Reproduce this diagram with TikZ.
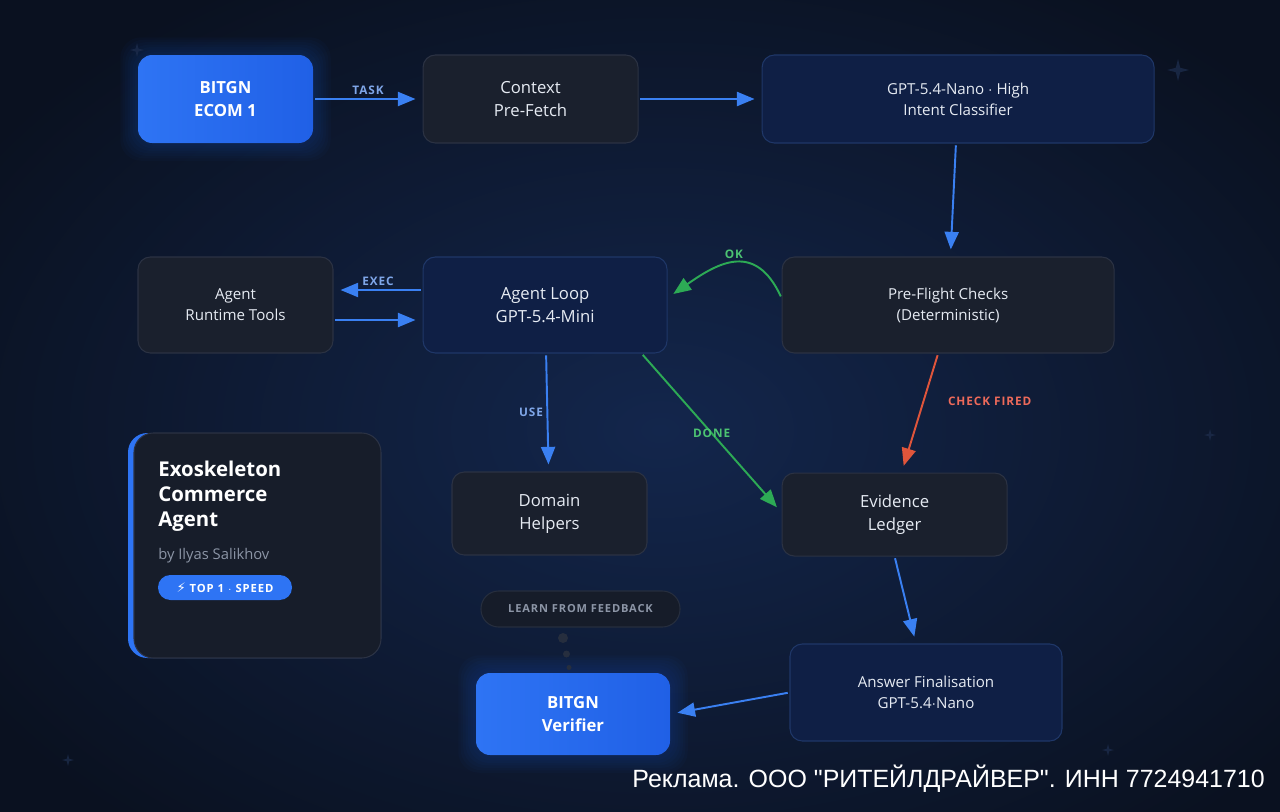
\documentclass[tikz,border=0pt]{standalone}
\usepackage{fontspec}
\setmainfont{Open Sans}
\newfontfamily\tagfont{Open Sans}[LetterSpace=8.0]
\newfontfamily\adfont{Liberation Sans}
\newfontfamily\symfont{DejaVu Sans}
\usetikzlibrary{positioning, arrows.meta, calc, backgrounds}

\definecolor{bgdark}{HTML}{0A1120}
\definecolor{bgglow}{HTML}{13264C}
\definecolor{greyfill}{HTML}{1A202D}
\definecolor{greyline}{HTML}{2B3243}
\definecolor{navyfill}{HTML}{0F1F45}
\definecolor{navyline}{HTML}{1F3768}
\definecolor{bitblue}{HTML}{2060E6}
\definecolor{bitbluelight}{HTML}{2E74F4}
\definecolor{flowblue}{HTML}{3A80F2}
\definecolor{tagblue}{HTML}{7FA6E8}
\definecolor{okgreen}{HTML}{2DAA55}
\definecolor{taggreen}{HTML}{4CC372}
\definecolor{firered}{HTML}{E0553B}
\definecolor{tagred}{HTML}{EE6A5A}
\definecolor{boxtext}{HTML}{E6EBF3}
\definecolor{mutedtext}{HTML}{8C95A6}
\definecolor{pillfill}{HTML}{161C29}
\definecolor{pillline}{HTML}{262E3E}
\definecolor{cardfill}{HTML}{171D2A}
\definecolor{sparkcol}{HTML}{1C2B4A}

\begin{document}
\begin{tikzpicture}[
    node distance=2cm,
    box/.style={rectangle, rounded corners=7pt, draw=greyline, fill=greyfill, line width=0.6pt, text=boxtext, align=center, inner sep=0pt, font=\fontsize{9.5}{13}\selectfont},
    smallbox/.style={box, font=\fontsize{8.6}{12}\selectfont},
    navy/.style={draw=navyline, fill=navyfill},
    bitgn/.style={box, draw=none, rounded corners=8pt, left color=bitbluelight, right color=bitblue, text=white, font=\fontsize{9.5}{13}\selectfont\bfseries},
    flow/.style={-{Triangle[length=10pt,width=8pt]}, draw=flowblue, line width=1.1pt, shorten >=4pt, shorten <=1pt},
    okflow/.style={flow, draw=okgreen, -{Triangle[length=10pt,width=8pt]}, fill=none},
    fireflow/.style={flow, draw=firered},
    tag/.style={font=\tagfont\bfseries\fontsize{6.7}{8}\selectfont, inner sep=2pt},
    sparkle/.style={fill=sparkcol, opacity=0.8}
]
    \useasboundingbox (0,0) rectangle (25.6,-16.22);

    % Background
    \begin{scope}[on background layer]
        \fill[bgdark] (-1,1) rectangle (26.6,-17.2);
        \shade[inner color=bgglow, outer color=bgdark] (13.2,-8.6) ellipse (16cm and 10.5cm);
    \end{scope}
    \foreach \sx/\sy/\sr in {2.74/-1.0/0.14, 23.56/-1.4/0.22, 24.2/-8.7/0.12, 1.36/-15.2/0.12, 22.16/-15.0/0.12}
        \fill[sparkle] (\sx,\sy) +(0,\sr) -- +(0.2*\sr,0.2*\sr) -- +(\sr,0) -- +(0.2*\sr,-0.2*\sr)
            -- +(0,-\sr) -- +(-0.2*\sr,-0.2*\sr) -- +(-\sr,0) -- +(-0.2*\sr,0.2*\sr) -- cycle;

    % Top row
    \node[bitgn, minimum width=3.5cm, minimum height=1.76cm] (bitgn) at (4.51,-1.98) {BITGN\\ECOM 1};
    \node[box, minimum width=4.3cm, minimum height=1.76cm, right=2.18cm of bitgn] (context) {Context\\Pre-Fetch};
    \node[smallbox, navy, minimum width=7.84cm, minimum height=1.76cm, right=2.46cm of context] (intent) {GPT-5.4-Nano $\cdot$ High\\Intent Classifier};

    % Middle row
    \node[smallbox, minimum width=3.9cm, minimum height=1.92cm] (tools) at (4.71,-6.10) {Agent\\Runtime Tools};
    \node[box, navy, minimum width=4.88cm, minimum height=1.92cm, right=1.78cm of tools] (loop) {Agent Loop\\GPT-5.4-Mini};
    \node[smallbox, minimum width=6.64cm, minimum height=1.92cm, right=2.28cm of loop] (preflight) {Pre-Flight Checks\\(Deterministic)};

    % Lower row
    \node[box, minimum width=3.9cm, minimum height=1.66cm] (domain) at (10.99,-10.27) {Domain\\Helpers};
    \node[box, minimum width=4.5cm, minimum height=1.66cm, below=2.38cm of preflight.south west, anchor=north west] (ledger) {Evidence\\Ledger};

    % Bottom
    \node[smallbox, navy, minimum width=5.44cm, minimum height=1.94cm] (answer) at (18.52,-13.85) {Answer Finalisation\\GPT-5.4$\cdot$Nano};
    \node[bitgn, minimum width=3.88cm, minimum height=1.64cm] (verifier) at (11.46,-14.28) {BITGN\\Verifier};
    \node[rectangle, rounded corners=10pt, draw=pillline, fill=pillfill, line width=0.6pt, minimum width=3.98cm, minimum height=0.72cm, inner sep=0pt, text=mutedtext, font=\tagfont\bfseries\fontsize{6.3}{8}\selectfont] (learn) at (11.61,-12.18) {LEARN FROM FEEDBACK};
    \fill[pillline] (11.26,-12.76) circle (0.1);
    \fill[pillline] (11.33,-13.08) circle (0.07);
    \fill[pillline] (11.38,-13.35) circle (0.05);

    % Card
    \fill[bitbluelight, rounded corners=11pt] (2.56,-8.66) rectangle (7.62,-13.16);
    \filldraw[fill=cardfill, draw=greyline, line width=0.6pt, rounded corners=11pt] (2.68,-8.66) rectangle (7.62,-13.16);
    \node[anchor=north west, align=left, inner sep=0pt, text=white, font=\fontsize{11.6}{14.2}\selectfont\bfseries] (cardtitle) at (3.16,-9.22) {Exoskeleton\\Commerce\\Agent};
    \node[anchor=base west, inner sep=0pt, text=mutedtext, font=\fontsize{8.4}{10}\selectfont] (byline) at (3.16,-11.18) {by Ilyas Salikhov};
    \node[rectangle, rounded corners=7pt, fill=bitbluelight, minimum width=2.68cm, minimum height=0.5cm, inner sep=0pt, text=white, font=\tagfont\bfseries\fontsize{6.4}{8}\selectfont] (toptag) at (4.5,-11.75) {{\symfont\fontsize{7.5}{8}\selectfont\char"26A1}\ TOP 1 $\cdot$ SPEED};

    % Glow
    \begin{scope}[on background layer]
        \foreach \n in {bitgn, verifier, toptag}
            \foreach \g in {2,4,...,14}
                \fill[bitblue, opacity=0.03, rounded corners=12pt] ($(\n.south west)+(-\g*0.7pt,-\g*0.7pt)$) rectangle ($(\n.north east)+(\g*0.7pt,\g*0.7pt)$);
    \end{scope}

    % Connectors
    \draw[flow] (bitgn) -- node[above, tag, text=tagblue] {TASK} (context);
    \draw[flow] (context) -- (intent);
    \draw[flow] (intent) -- (preflight);
    \draw[flow] ([yshift=0.3cm]loop.west) -- node[above, tag, text=tagblue] {EXEC} ([yshift=0.3cm]tools.east);
    \draw[flow] ([yshift=-0.3cm]tools.east) -- ([yshift=-0.3cm]loop.west);
    \draw[okflow] ([yshift=0.14cm]preflight.west) to[out=115, in=35, looseness=1.4] node[above, tag, text=taggreen] {OK} ([yshift=0.14cm]loop.east);
    \draw[flow] (loop) -- node[pos=0.5, left, tag, text=tagblue] {USE} (domain);
    \draw[okflow] ([xshift=-0.52cm]loop.south east) -- node[midway, tag, text=taggreen] {DONE} ([yshift=0.04cm]ledger.west);
    \draw[fireflow] ([xshift=-0.2cm]preflight.south) -- node[pos=0.4, right=0.4cm, tag, text=tagred] {CHECK FIRED} ([xshift=0.14cm]ledger.north);
    \draw[flow] (ledger.south) -- ([xshift=-0.2cm]answer.north);
    \draw[flow] (answer.west) -- (verifier.east);

    % Ad line
    \node[anchor=base east, inner sep=0pt, text=white, font=\adfont\fontsize{14.2}{17}\selectfont] (admark) at (25.3,-15.74) {Реклама. ООО "РИТЕЙЛДРАЙВЕР". ИНН 7724941710};
\end{tikzpicture}
\end{document}
